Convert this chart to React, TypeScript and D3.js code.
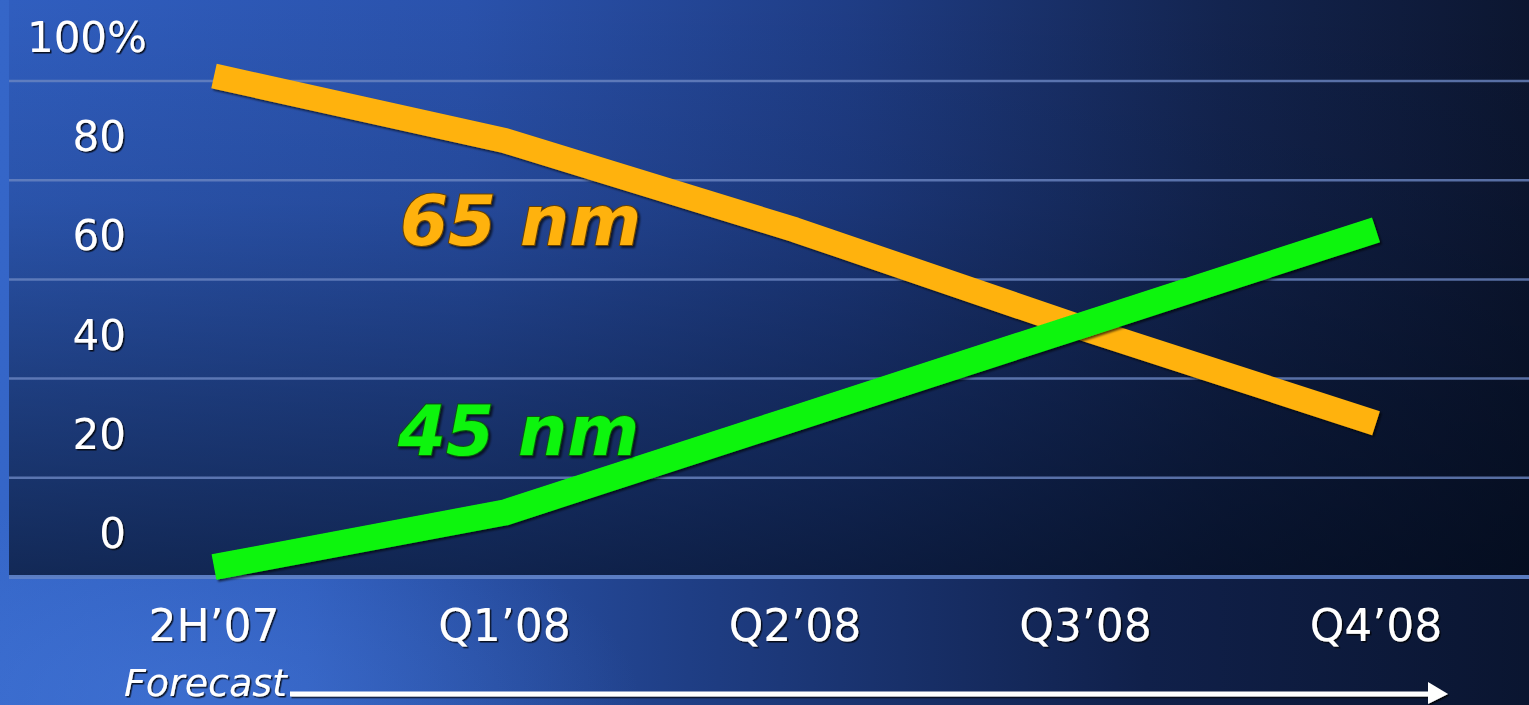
import React from "react";
import * as d3 from "d3";

const categories = ["2H’07", "Q1’08", "Q2’08", "Q3’08", "Q4’08"];
const nm65 = [101, 88, 70, 50, 31];
const nm45 = [2, 13, 32, 51, 70];
const yTicks = [0, 20, 40, 60, 80, 100];
const yTickLabels = ["0", "20", "40", "60", "80", "100%"];
const seriesNames = ["65 nm", "45 nm"];
const forecastLabel = "Forecast";

const W = 1529;
const H = 705;
const plotLeft = 9;
const plotTop = 0;
const baseY = 577;
const topY = 81;
const ORANGE = "#FFB20C";
const GREEN = "#0EF50E";

export default function App() {
  const x = d3.scalePoint<string>().domain(categories).range([214, 1376]);
  const y = d3.scaleLinear().domain([0, 100]).range([baseY, topY]);
  const line = d3
    .line<number>()
    .x((_, i) => x(categories[i]) as number)
    .y((d) => y(d));

  const font = "'DejaVu Sans', Verdana, sans-serif";

  return (
    <div style={{ position: "fixed", left: 0, top: 0, width: W, height: H, overflow: "hidden" }}>
      <svg width={W} height={H} style={{ display: "block" }}>
        <defs>
          <linearGradient id="outerH" x1="0" y1="0" x2="1" y2="0">
            <stop offset="0" stopColor="#3566c8" />
            <stop offset="0.2" stopColor="#2f5cbb" />
            <stop offset="0.45" stopColor="#1f3e85" />
            <stop offset="0.75" stopColor="#10204a" />
            <stop offset="1" stopColor="#0a1530" />
          </linearGradient>
          <radialGradient id="outerGlow" cx="0.12" cy="1" r="0.3" fx="0.12" fy="1">
            <stop offset="0" stopColor="#4a7ee0" stopOpacity="0.45" />
            <stop offset="1" stopColor="#4a7ee0" stopOpacity="0" />
          </radialGradient>
          <linearGradient id="plotH" x1="0" y1="0" x2="1" y2="0">
            <stop offset="0" stopColor="#305ebf" />
            <stop offset="0.3" stopColor="#2a52ac" />
            <stop offset="0.55" stopColor="#1f3d86" />
            <stop offset="0.8" stopColor="#13244f" />
            <stop offset="1" stopColor="#0c1630" />
          </linearGradient>
          <linearGradient id="plotV" x1="0" y1="0" x2="0" y2="1">
            <stop offset="0" stopColor="#000816" stopOpacity="0" />
            <stop offset="0.35" stopColor="#000816" stopOpacity="0.12" />
            <stop offset="0.7" stopColor="#000816" stopOpacity="0.4" />
            <stop offset="1" stopColor="#000816" stopOpacity="0.62" />
          </linearGradient>
          <filter id="shadow" x="-5%" y="-20%" width="110%" height="140%">
            <feDropShadow dx="2" dy="2" stdDeviation="1.2" floodColor="#000" floodOpacity="0.65" />
          </filter>
          <filter id="tshadow" x="-5%" y="-20%" width="110%" height="140%">
            <feDropShadow dx="1.5" dy="1.5" stdDeviation="0.6" floodColor="#000" floodOpacity="0.8" />
          </filter>
        </defs>

        <rect x={0} y={0} width={W} height={H} fill="url(#outerH)" />
        <rect x={0} y={0} width={W} height={H} fill="url(#outerGlow)" />
        <rect x={plotLeft} y={plotTop} width={W - plotLeft} height={baseY - plotTop} fill="url(#plotH)" />
        <rect x={plotLeft} y={plotTop} width={W - plotLeft} height={baseY - plotTop} fill="url(#plotV)" />

        {yTicks.map((t) => (
          <line
            key={"g" + t}
            x1={plotLeft}
            x2={W}
            y1={y(t)}
            y2={y(t)}
            stroke={t === 0 ? "#5f82c8" : "#6c86c2"}
            strokeOpacity={t === 0 ? 0.95 : 0.8}
            strokeWidth={t === 0 ? 4 : 2.5}
          />
        ))}

        {yTicks.map((t, i) => {
          const lbl = yTickLabels[i];
          const hasPct = lbl.includes("%");
          return (
            <text
              key={"yl" + t}
              x={hasPct ? 147 : 126}
              y={y(t) - 29}
              textAnchor="end"
              fill="#fff"
              fontFamily={font}
              fontSize={42}
              filter="url(#tshadow)"
            >
              {lbl}
            </text>
          );
        })}

        {categories.map((c) => (
          <text
            key={"xl" + c}
            x={x(c) as number}
            y={641}
            textAnchor="middle"
            fill="#fff"
            fontFamily={font}
            fontSize={44}
            filter="url(#tshadow)"
          >
            {c}
          </text>
        ))}

        <g filter="url(#shadow)">
          <path
            d={line(nm65) || ""}
            fill="none"
            stroke={ORANGE}
            strokeWidth={25}
            strokeLinejoin="round"
            strokeLinecap="butt"
          />
        </g>
        <g filter="url(#shadow)">
          <path
            d={line(nm45) || ""}
            fill="none"
            stroke={GREEN}
            strokeWidth={26}
            strokeLinejoin="round"
            strokeLinecap="butt"
          />
        </g>

        <text
          x={400}
          y={y(67)}
          fill={ORANGE}
          fontFamily={font}
          fontSize={69}
          fontWeight="bold"
          fontStyle="italic"
          stroke="#6a4300"
          strokeWidth={2}
          paintOrder="stroke"
          filter="url(#shadow)"
        >
          {seriesNames[0]}
        </text>
        <text
          x={398}
          y={y(24.5)}
          fill={GREEN}
          fontFamily={font}
          fontSize={69}
          fontWeight="bold"
          fontStyle="italic"
          stroke="#0a5a0a"
          strokeWidth={2}
          paintOrder="stroke"
          filter="url(#shadow)"
        >
          {seriesNames[1]}
        </text>

        <text
          x={124}
          y={696}
          fill="#fff"
          fontFamily={font}
          fontSize={38}
          fontStyle="italic"
          filter="url(#tshadow)"
        >
          {forecastLabel}
        </text>
        <g filter="url(#tshadow)">
          <line x1={290} x2={1432} y1={694} y2={694} stroke="#fff" strokeWidth={5} />
          <path d="M1428,682 L1448,694 L1428,704 Z" fill="#fff" />
        </g>
      </svg>
    </div>
  );
}
